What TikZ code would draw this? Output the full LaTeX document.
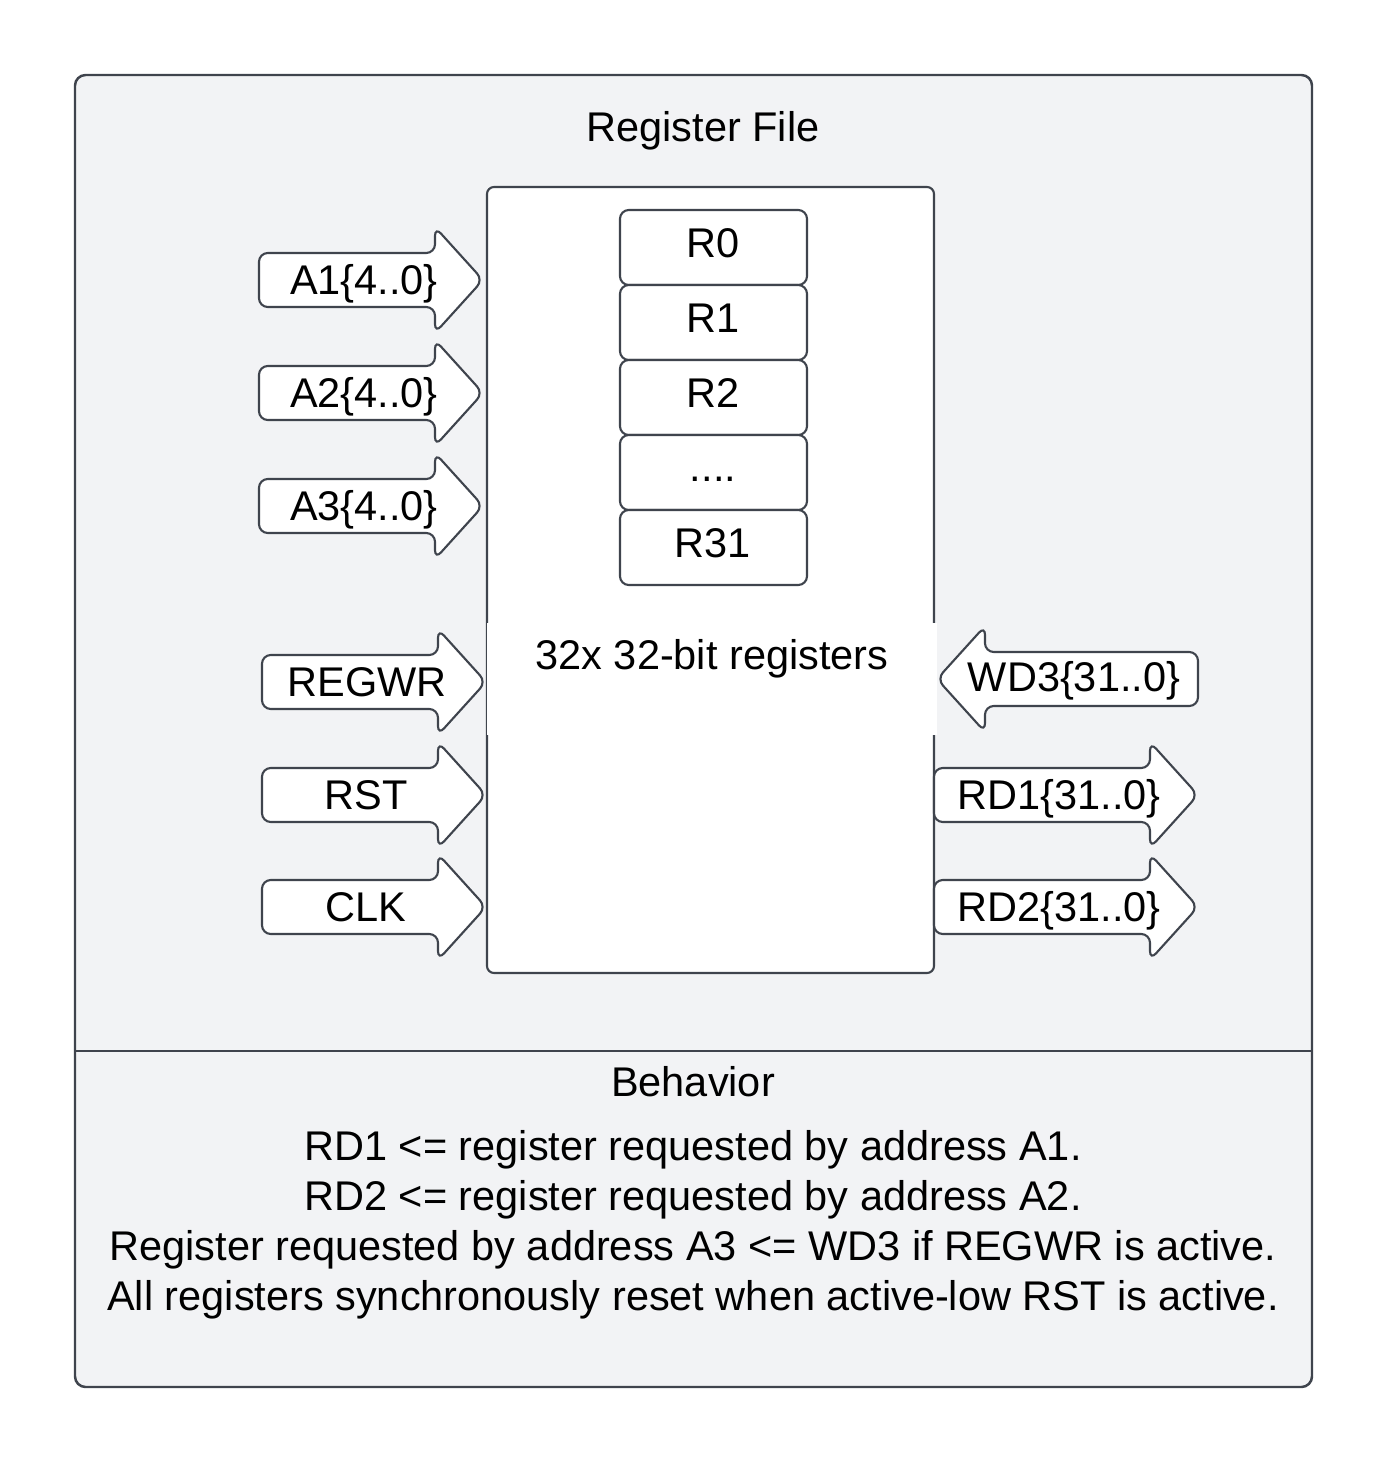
\documentclass[tikz,border=0pt]{standalone}
\usepackage{fontspec}
\setmainfont{Liberation Sans}
\definecolor{panel}{RGB}{242,243,245}
\definecolor{edge}{RGB}{63,68,77}

% right pointing signal arrow: name, tail x, centre y, body length, text x, text
\newcommand{\sigright}[6]{%
  \draw[sig] (#2,#3-27) -- ++(#4,0) -- ++(0,-26) -- ++(48,53) -- ++(-48,53) -- ++(0,-26) -- ++(-#4,0) -- cycle;
  \node[lbl] (#1) at (#5,#3+14) {#6};
}
% left pointing signal arrow: name, tip x, centre y, body length, text x, text
\newcommand{\sigleft}[6]{%
  \draw[sig] (#2,#3) -- ++(48,-53) -- ++(0,26) -- ++(#4,0) -- ++(0,54) -- ++(-#4,0) -- ++(0,26) -- cycle;
  \node[lbl] (#1) at (#5,#3+12) {#6};
}

\tikzset{
  sig/.style={draw=edge, fill=white, line width=0.6pt, rounded corners=2.5pt},
  lbl/.style={anchor=base, inner sep=0pt, font=\fontsize{11.8}{14}\selectfont},
  reg/.style={draw=edge, fill=white, line width=0.6pt, rounded corners=2.5pt,
              minimum width=187*0.01cm, minimum height=75*0.01cm, inner sep=0pt}
}

\begin{document}
\begin{tikzpicture}[x=0.01cm, y=-0.01cm]
        \useasboundingbox (0,0) rectangle (1388,1463);
        \filldraw[fill=panel, draw=edge, line width=0.7pt, rounded corners=3pt](75,75) rectangle (1312,1387);
        \draw[edge, line width=0.7pt](75,1051) -- (1312,1051);
        \node[lbl] (title) at (703,141) {Register File};

        % register file block
        \filldraw[fill=white, draw=edge, line width=0.6pt, rounded corners=2pt](487,187) rectangle (934,973);
        \node[reg] (r0) at (713.5,247.5) {};
        \node[reg] (r1) at (713.5,322.5) {};
        \node[reg] (r2) at (713.5,397.5) {};
        \node[reg] (rdots) at (713.5,472.5) {};
        \node[reg] (r31) at (713.5,547.5) {};
        \node[lbl] at (713,257) {R0};
        \node[lbl] at (713,332) {R1};
        \node[lbl] at (713,407) {R2};
        \node[lbl] at (713,481) {....};
        \node[lbl] at (713,557) {R31};
        \fill[white](487,623) rectangle (937,735);
        \node[lbl] (regs) at (712,669) {32x 32-bit registers};

        % inputs
        \sigright{a1_in}{259}{280}{176}{364}{A1\{4..0\}}
        \sigright{a2_in}{259}{393}{176}{364}{A2\{4..0\}}
        \sigright{a3_in}{259}{506}{176}{364}{A3\{4..0\}}
        \sigright{regwr_in}{262}{682}{176}{367}{REGWR}
        \sigright{rst_in}{262}{795}{176}{366}{RST}
        \sigright{clk_in}{262}{907}{176}{366}{CLK}
        \sigleft{wd3_in}{937}{679}{213}{1074}{WD3\{31..0\}}

        % outputs
        \sigright{rd1_out}{934}{795}{216}{1059}{RD1\{31..0\}}
        \sigright{rd2_out}{934}{907}{216}{1059}{RD2\{31..0\}}

        % behavior
        \node[lbl] (beh) at (693,1096) {Behavior};
        \node[lbl] (l1) at (693,1160) {RD1 <= register requested by address A1.};
        \node[lbl] (l2) at (693,1210) {RD2 <= register requested by address A2.};
        \node[lbl] (l3) at (693,1260) {Register requested by address A3 <= WD3 if REGWR is active.};
        \node[lbl] (l4) at (693,1310) {All registers synchronously reset when active-low RST is active.};
    \end{tikzpicture}
\end{document}
